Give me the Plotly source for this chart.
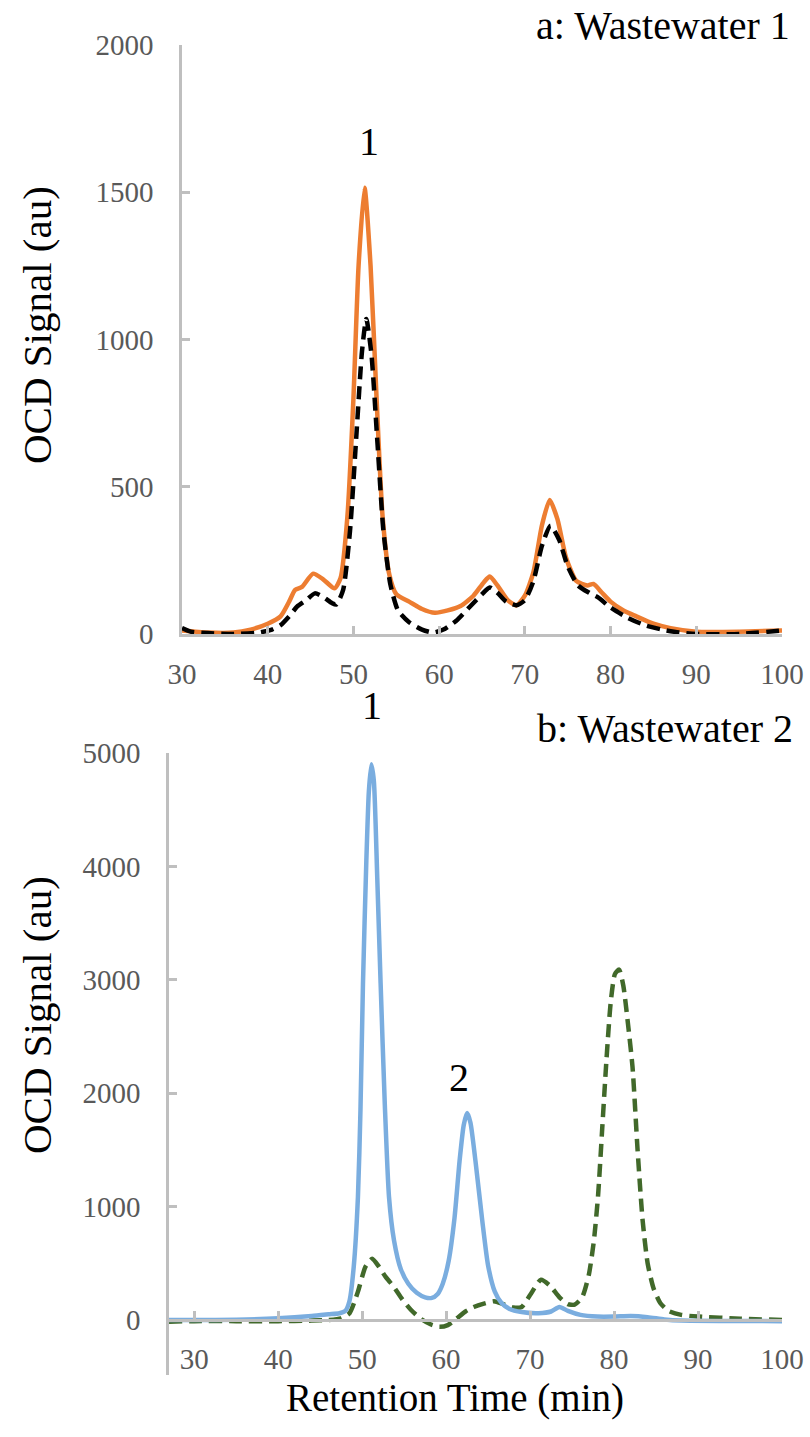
import plotly.graph_objects as go

# ---- Wastewater 1: OCD chromatograms ----
ww1_time_orange = [30, 33, 36, 38, 40, 41.5, 42.5, 43.2, 44, 45.3, 46.5, 47.8, 48.5, 49.3, 50, 50.6,
                   51.3, 52, 52.7, 53.4, 54.2, 55, 56.5, 58, 59.5, 61, 62.5, 64, 65.2, 65.9, 66.8,
                   68, 69, 70, 71, 72, 72.9, 73.8, 74.8, 76, 77.3, 78, 79, 80, 81.5, 83, 85, 87,
                   90, 95, 100]
ww1_orange = [12, 5, 5, 15, 35, 60, 110, 150, 160, 205, 185, 155, 190, 400, 800, 1250,
              1515, 1250, 800, 400, 200, 135, 110, 85, 72, 80, 95, 130, 175, 195, 165,
              115, 97, 130, 210, 370, 455, 390, 260, 180, 165, 170, 140, 110, 80, 60, 35, 20,
              8, 8, 12]

ww1_time_black = [30, 31, 33, 36, 39, 40.5, 41.5, 42.5, 43.5, 44.5, 45.5, 46.5, 47.5, 48, 48.8,
                  49.6, 50.4, 51, 51.5, 52.1, 52.8, 53.5, 54.3, 55.2, 56.5, 58, 59.3, 60.5, 62,
                  63.5, 65, 65.9, 66.8, 67.8, 69, 70, 71, 72, 73, 74, 75, 76.2, 77.5, 78.5, 80,
                  82, 84, 86, 88, 90, 95, 100]
ww1_black = [20, 8, 3, 0, 5, 15, 30, 60, 95, 115, 138, 125, 105, 100, 150,
             350, 700, 960, 1070, 950, 650, 350, 170, 80, 40, 15, 5, 15, 45,
             90, 135, 158, 140, 110, 98, 115, 180, 300, 368, 320, 230, 165, 140, 125, 90,
             55, 30, 15, 5, 0, 0, 12]

# ---- Wastewater 2: OCD chromatograms ----
ww2_time_blue = [27, 30, 35, 40, 44, 46, 47.3, 48, 48.5, 49, 49.5, 49.8, 50.1, 50.5, 50.8, 51.1,
                 51.4, 51.8, 52.2, 52.7, 53.2, 53.8, 54.6, 55.5, 56.5, 57.5, 58.3, 59, 59.6,
                 60.3, 61, 61.6, 62.1, 62.5, 62.9, 63.5, 64.3, 65, 65.8, 66.6, 67.5, 69, 71,
                 72.5, 73.5, 74.5, 76, 78, 80, 82, 84, 86, 88, 100]
ww2_blue = [0, 0, 3, 15, 35, 50, 60, 80, 170, 470, 1085, 1850, 2970, 4050, 4660, 4900,
            4750, 3900, 2970, 1900, 1085, 700, 450, 320, 240, 200, 195, 230, 320,
            520, 900, 1400, 1720, 1825, 1740, 1400, 880, 480, 250, 150, 100, 70, 60,
            75, 115, 80, 45, 30, 30, 35, 25, 5, -5, -10]

ww2_time_green = [27, 30, 35, 40, 44, 46, 47.5, 48.5, 49.5, 50.4, 51.2, 52, 52.8, 53.7, 54.8,
                  55.8, 57, 58.2, 59.2, 60.2, 61.2, 62.3, 63.3, 64.5, 65.7, 66.8, 68, 69, 70,
                  71.3, 72.4, 73.5, 74.5, 75.3, 76.2, 77, 77.6, 78.1, 78.6, 79.1, 79.6, 80.1,
                  80.6, 81.1, 81.6, 82.2, 82.8, 83.4, 84, 84.7, 85.5, 86.5, 88, 90, 95, 100]
ww2_green = [-15, -10, -10, -10, -5, 0, 15, 60, 250, 470, 540, 470, 380, 300, 180,
             90, 10, -40, -60, -45, 10, 75, 115, 145, 165, 140, 110, 115, 220,
             355, 300, 200, 140, 135, 200, 400, 700, 1100, 1700, 2300, 2800, 3050,
             3090, 2950, 2650, 2230, 1500, 880, 500, 280, 150, 80, 45, 30, 12, 0]

x_ticks = [30, 40, 50, 60, 70, 80, 90, 100]
y1_ticks = [0, 500, 1000, 1500, 2000]
y2_ticks = [0, 1000, 2000, 3000, 4000, 5000]

W, H = 810, 1437
SERIF = "Liberation Serif, Times New Roman, DejaVu Serif, serif"
AXIS_GREY = "#BFBFBF"
TICK_TEXT = "#595959"


def px_x(p):
    return p / W


def px_y(p):
    return 1 - p / H


fig = go.Figure()

fig.add_trace(go.Scatter(x=ww1_time_orange, y=ww1_orange, mode="lines",
                         line=dict(color="#ED7D31", width=4.5, shape="spline", smoothing=0.6),
                         xaxis="x", yaxis="y", name="WW1 solid"))
fig.add_trace(go.Scatter(x=ww1_time_black, y=ww1_black, mode="lines",
                         line=dict(color="#000000", width=4.5, dash="13px,7px", shape="spline",
                                   smoothing=0.6),
                         xaxis="x", yaxis="y", name="WW1 dashed"))
fig.add_trace(go.Scatter(x=ww2_time_green, y=ww2_green, mode="lines",
                         line=dict(color="#41692A", width=4.5, dash="13px,7px", shape="spline",
                                   smoothing=0.6),
                         xaxis="x2", yaxis="y2", name="WW2 dashed"))
fig.add_trace(go.Scatter(x=ww2_time_blue, y=ww2_blue, mode="lines",
                         line=dict(color="#7AADDF", width=4.5, shape="spline", smoothing=0.6),
                         xaxis="x2", yaxis="y2", name="WW2 solid"))

axis_common = dict(showgrid=False, zeroline=False, showline=True, linecolor=AXIS_GREY,
                   linewidth=2.5, ticks="inside", ticklen=8, tickwidth=2.5, automargin=False,
                   tickcolor=AXIS_GREY, tickfont=dict(family=SERIF, size=29, color=TICK_TEXT))

fig.update_layout(
    width=W, height=H,
    autosize=False,
    margin=dict(l=0, r=0, t=0, b=0, pad=0),
    paper_bgcolor="white", plot_bgcolor="white",
    showlegend=False,
    font=dict(family=SERIF),
    xaxis=dict(domain=[px_x(182), px_x(782)], range=[30, 100], tickvals=x_ticks,
               anchor="y", ticklabelstandoff=12, **axis_common),
    yaxis=dict(domain=[px_y(634), px_y(45)], range=[0, 2000], tickvals=y1_ticks,
               anchor="x", ticklabelstandoff=20, **axis_common),
    xaxis2=dict(domain=[px_x(169), px_x(782)], range=[27, 100], tickvals=x_ticks,
                anchor="free", position=px_y(1320), ticklabelstandoff=12, **axis_common),
    yaxis2=dict(domain=[px_y(1375), px_y(753)], range=[-485, 5000], tickvals=y2_ticks,
                anchor="x2", ticklabelstandoff=20, **axis_common),
)

annotations = [
    dict(text="a: Wastewater 1", x=px_x(792), y=px_y(25), xanchor="right", yanchor="middle",
         font=dict(size=40)),
    dict(text="b: Wastewater 2", x=px_x(795), y=px_y(728), xanchor="right", yanchor="middle",
         font=dict(size=40)),
    dict(text="1", x=px_x(369), y=px_y(141), xanchor="center", yanchor="middle",
         font=dict(size=40)),
    dict(text="1", x=px_x(372), y=px_y(705), xanchor="center", yanchor="middle",
         font=dict(size=40)),
    dict(text="2", x=px_x(459), y=px_y(1077), xanchor="center", yanchor="middle",
         font=dict(size=40)),
    dict(text="OCD Signal (au)", x=px_x(37), y=px_y(325), xanchor="center", yanchor="middle",
         textangle=-90, font=dict(size=41)),
    dict(text="OCD Signal (au)", x=px_x(37), y=px_y(1015), xanchor="center", yanchor="middle",
         textangle=-90, font=dict(size=41)),
    dict(text="Retention Time (min)", x=px_x(455), y=px_y(1398), xanchor="center",
         yanchor="middle", font=dict(size=39)),
]
for a in annotations:
    a.setdefault("xref", "paper")
    a.setdefault("yref", "paper")
    a["showarrow"] = False
    a["font"] = dict(family=SERIF, color="#000000", **a["font"])
fig.update_layout(annotations=annotations)

fig.write_html("out.html")
